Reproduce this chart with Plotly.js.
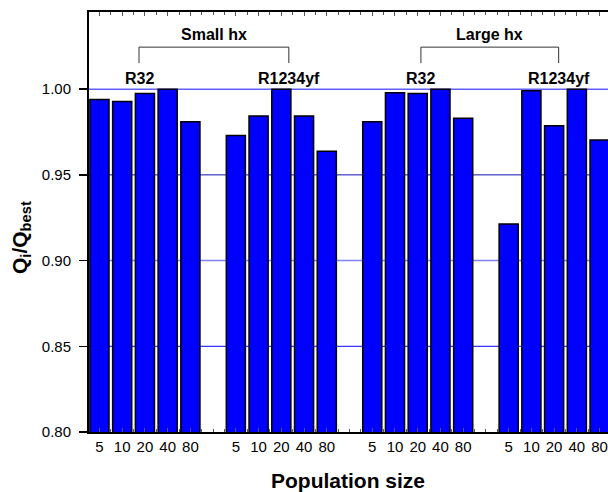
<!DOCTYPE html>
<html><head><meta charset="utf-8">
<script src="https://cdn.plot.ly/plotly-3.0.1.min.js"></script>
<style>body{margin:0;padding:0;background:#fff}#chart{width:608px;height:492px}</style>
</head><body><div id="chart"></div>
<script>
// Population sizes (tick labels)
const popSizes = ['5', '10', '20', '40', '80'];
// Q_i / Q_best values per group
const smallR32 = [0.994, 0.9928, 0.9975, 1.000, 0.981];
const smallR1234yf = [0.973, 0.9844, 1.000, 0.9843, 0.9638];
const largeR32 = [0.981, 0.9979, 0.9975, 1.000, 0.983];
const largeR1234yf = [0.9213, 0.999, 0.9786, 1.000, 0.9704];
const groupSeries = [smallR32, smallR1234yf, largeR32, largeR1234yf];
const refrigerants = ['R32', 'R1234yf', 'R32', 'R1234yf'];
const hxLabels = ['Small hx', 'Large hx'];
const xTitle = 'Population size';
const yTitle = 'Q<sub>i</sub>/Q<sub>best</sub>';

const slotsPerGroup = popSizes.length + 1;
const traces = [];
const tickvals = [], ticktext = [];
groupSeries.forEach((vals, g) => {
  const xs = vals.map((v, i) => g * slotsPerGroup + i);
  xs.forEach((x, i) => { tickvals.push(x); ticktext.push(popSizes[i]); });
  traces.push({
    type: 'bar', x: xs, y: vals, width: 0.84, showlegend: false,
    marker: {color: '#0000ff', line: {color: '#000000', width: 1.5}},
    hoverinfo: 'x+y'
  });
});

const labelX = [1.74, 8.33, 14.14, 20.2];
const shapes = [];
const gridDefs = [[0.85, '#0000ff', 1], [0.90, '#8080ff', 1.5], [0.95, '#1010b0', 1], [1.00, '#6060ff', 1.5]];
gridDefs.forEach(([y, c, w]) => shapes.push({type: 'line', xref: 'paper', x0: 0, x1: 1, yref: 'y', y0: y, y1: y, layer: 'below', line: {color: c, width: w}}));

const annotations = [];
const font = 'Liberation Sans, Arial, sans-serif';
refrigerants.forEach((r, g) => annotations.push({x: labelX[g], y: 1.0064, xref: 'x', yref: 'y', text: '<b>' + r + '</b>', showarrow: false, font: {family: font, size: 16, color: '#000'}}));
hxLabels.forEach((h, k) => {
  const a = labelX[2 * k], b = labelX[2 * k + 1];
  shapes.push({type: 'path', xref: 'x', yref: 'y', path: `M ${a} 1.0152 L ${a} 1.0245 L ${b} 1.0245 L ${b} 1.0152`, line: {color: '#333', width: 1}});
  annotations.push({x: (a + b) / 2, y: 1.0318, xref: 'x', yref: 'y', text: '<b>' + h + '</b>', showarrow: false, font: {family: font, size: 16, color: '#000'}});
});
// axis titles as annotations for exact placement
annotations.push({xref: 'paper', yref: 'paper', x: (348 - 89) / 519, y: -(480 - 432) / 420, text: '<b>' + xTitle + '</b>', showarrow: false, font: {family: font, size: 21, color: '#000'}, xanchor: 'center', yanchor: 'middle'});
annotations.push({xref: 'paper', yref: 'paper', x: -(89 - 21) / 519, y: (432 - 238) / 420, text: '<b>' + yTitle + '</b>', textangle: -90, showarrow: false, font: {family: font, size: 21, color: '#000'}, xanchor: 'center', yanchor: 'middle'});

const layout = {
  width: 608, height: 492,
  margin: {l: 89, r: 0, t: 12, b: 60},
  paper_bgcolor: '#fff', plot_bgcolor: '#fff',
  font: {family: font, color: '#000'},
  bargap: 0,
  xaxis: {
    range: [-0.46, 22.37], tickvals: tickvals, ticktext: ticktext,
    ticks: 'inside', ticklen: 4, tickwidth: 1, tickcolor: '#555',
    minor: {dtick: 0.5, tick0: 0.5, ticks: 'inside', ticklen: 3, tickcolor: '#555'},
    showline: true, linecolor: '#000', linewidth: 2, mirror: 'ticks',
    showgrid: false, zeroline: false,
    tickfont: {size: 15, family: font}
  },
  yaxis: {
    range: [0.8, 1.045], tickvals: [0.8, 0.85, 0.9, 0.95, 1.0],
    tickformat: '.2f', ticks: 'outside', ticklen: 8, tickwidth: 1.5, tickcolor: '#000',
    ticklabelstandoff: 5,
    showline: true, linecolor: '#000', linewidth: 2,
    showgrid: false, zeroline: false,
    tickfont: {size: 15, family: font}
  },
  shapes: shapes, annotations: annotations
};
Plotly.newPlot('chart', traces, layout, {displayModeBar: false, staticPlot: true});
</script></body></html>
